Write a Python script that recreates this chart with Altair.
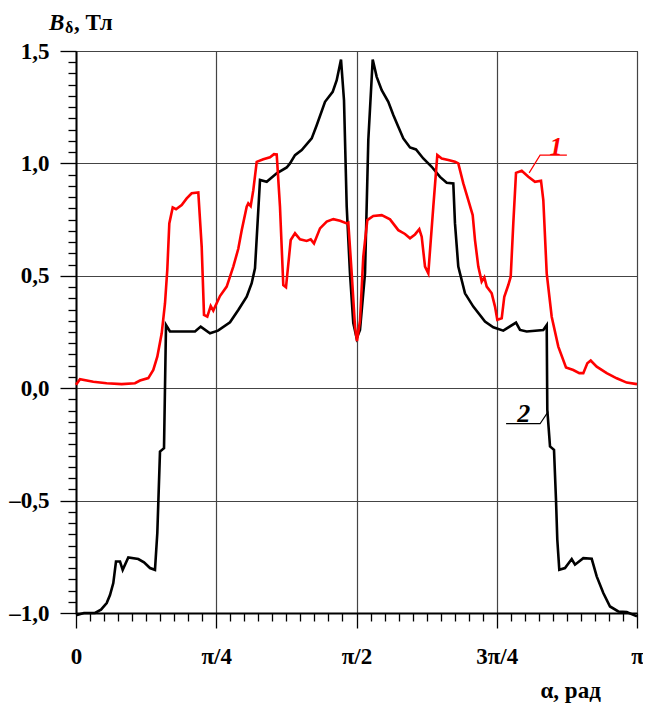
import altair as alt
import pandas as pd

# angle in degrees (0..180 = 0..pi), B in Tesla
alpha_black = [0, 2.57, 6.10, 8.02, 9.85, 10.91, 11.97, 12.83, 14.12, 14.98, 16.78, 19.99, 21.82,
               23.74, 25.34, 26.09, 26.95, 28.24, 28.88, 30.16, 38.18, 40.01, 42.99, 45.56, 49.41,
               52.07, 54.77, 56.37, 57.43, 59.04, 61.19, 64.40, 67.61, 68.66, 70.27, 72.42, 75.63,
               77.23, 79.90, 82.36, 83.65, 85.03, 85.99, 86.86, 87.91, 88.97, 90.06, 91.12, 92.73,
               93.79, 95.20, 96.48, 98.09, 100.20, 101.81, 103.41, 105.02, 107.17, 109.09, 111.43,
               114.13, 116.79, 118.94, 121.06, 121.60, 122.66, 124.81, 127.48, 131.23, 133.89,
               137.10, 141.18, 142.46, 144.61, 149.94, 151.03, 151.22, 152.09, 153.37, 154.01,
               154.43, 155.07, 156.90, 159.05, 160.11, 162.77, 165.47, 167.07, 169.19, 171.34,
               174.00, 176.70, 180]
b_black = [-1.01, -1.0, -1.0, -0.985, -0.956, -0.92, -0.867, -0.771, -0.771, -0.808, -0.753, -0.760,
           -0.775, -0.80, -0.808, -0.644, -0.282, -0.267, 0.281, 0.252, 0.252, 0.274, 0.244, 0.256,
           0.293, 0.348, 0.407, 0.467, 0.533, 0.926, 0.918, 0.956, 0.982, 1.0, 1.037, 1.059, 1.111,
           1.170, 1.274, 1.318, 1.370, 1.462, 1.281, 0.807, 0.51, 0.29, 0.222, 0.259, 0.511,
           1.104, 1.462, 1.385, 1.326, 1.274, 1.215, 1.163, 1.111, 1.071, 1.062, 1.022,
           0.985, 0.940, 0.914, 0.911, 0.733, 0.541, 0.422, 0.363, 0.296, 0.271,
           0.256, 0.292, 0.259, 0.252, 0.259, 0.281, -0.096, -0.259, -0.274, -0.496,
           -0.674, -0.808, -0.80, -0.760, -0.785, -0.756, -0.759, -0.837, -0.911, -0.971,
           -0.993, -0.996, -1.015]

alpha_red = [0, 1.28, 5.55, 9.85, 14.66, 18.93, 20.53, 23.20, 24.80, 26.09, 27.50, 28.56, 29.29,
             29.94, 31.03, 32.09, 33.91, 35.52, 37.12, 39.24, 40.33, 41.07, 42.13, 43.22, 44.05,
             46.20, 48.35, 50.47, 52.07, 53.17, 54.77, 55.28, 56.05, 56.89, 57.98, 60.10, 62.25,
             63.53, 64.40, 65.45, 66.51, 67.38, 68.89, 70.27, 71.87, 74.02, 75.31, 76.36, 78.29,
             80.44, 82.56, 84.71, 86.86, 87.37, 88.46, 89.52, 90.16, 91.12, 92.18, 93.47, 95.39,
             98.09, 100.75, 103.41, 105.56, 107.17, 108.77, 110.15, 110.92, 111.98, 113.04,
             114.64, 115.93, 117.34, 119.46, 121.60, 122.66, 124.27, 125.87, 127.28, 128.02,
             129.08, 130.17, 131.01, 131.78, 133.38, 134.44, 135.18, 136.59, 137.42, 138.71,
             139.48, 140.31, 141.18, 143.01, 145.13, 147.27, 149.20, 149.94, 151.03, 152.63,
             154.75, 157.22, 159.56, 161.49, 162.77, 164.06, 165.15, 167.07, 170.28, 173.49,
             176.70, 180]
b_red = [0.015, 0.04, 0.029, 0.022, 0.018, 0.022, 0.034, 0.045, 0.081, 0.14, 0.244, 0.378, 0.526,
         0.733, 0.804, 0.796, 0.815, 0.844, 0.867, 0.871, 0.629, 0.326, 0.318, 0.366, 0.345,
         0.410, 0.452, 0.541, 0.62, 0.703, 0.807, 0.822, 0.810, 0.881, 1.007, 1.018, 1.027,
         1.041, 1.04, 0.807, 0.459, 0.449, 0.659, 0.689, 0.662, 0.655, 0.662, 0.644, 0.711,
         0.741, 0.752, 0.745, 0.733, 0.736, 0.511, 0.274, 0.21, 0.30, 0.585, 0.748, 0.766,
         0.770, 0.751, 0.703, 0.686, 0.667, 0.684, 0.707, 0.674, 0.541, 0.511,
         0.807, 1.037, 1.022, 1.015, 1.007, 1.0, 0.911, 0.837, 0.770, 0.659,
         0.541, 0.474, 0.493, 0.452, 0.422, 0.363, 0.304, 0.311, 0.407, 0.459,
         0.496, 0.733, 0.958, 0.967, 0.941, 0.918, 0.923, 0.837, 0.511, 0.318,
         0.185, 0.092, 0.081, 0.067, 0.067, 0.111, 0.123, 0.096, 0.067, 0.044,
         0.025, 0.018]

# curve labels and their leader lines
label1_text = "1"
label1_pos = (154.0, 1.037)
leader1_alpha = [157.5, 148.9, 145.4]
leader1_b = [1.037, 1.037, 0.958]
label2_text = "2"
label2_pos = (143.7, -0.150)
leader2_alpha = [138.0, 148.9, 151.5]
leader2_b = [-0.158, -0.158, -0.104]

# axis ticks: majors every pi/4 and 0.5, minors every pi/40 and 0.05
x_ticks = [i * 4.5 for i in range(41)]
y_ticks = [round(-1.0 + 0.05 * i, 2) for i in range(51)]

FONT = "Liberation Serif"

black = pd.DataFrame({"alpha": alpha_black, "B": b_black, "i": range(len(alpha_black))})
red = pd.DataFrame({"alpha": alpha_red, "B": b_red, "i": range(len(alpha_red))})
lead1 = pd.DataFrame({"alpha": leader1_alpha, "B": leader1_b, "i": range(3)})
lead2 = pd.DataFrame({"alpha": leader2_alpha, "B": leader2_b, "i": range(3)})
lab = pd.DataFrame({"alpha": [label1_pos[0], label2_pos[0]], "B": [label1_pos[1], label2_pos[1]],
                    "t": [label1_text, label2_text], "c": ["red", "black"]})

xs = alt.Scale(domain=[0, 180], nice=False, zero=False)
ys = alt.Scale(domain=[-1.0, 1.5], nice=False, zero=False)

x_major = "datum.value % 45 == 0"
y_major = "abs(datum.value * 2 - round(datum.value * 2)) < 0.001"

x_lab = ("datum.value == 0 ? '0' : datum.value == 45 ? 'π/4' : datum.value == 90 ? 'π/2' : "
         "datum.value == 135 ? '3π/4' : datum.value == 180 ? 'π' : ''")
y_lab = ("abs(datum.value * 2 - round(datum.value * 2)) < 0.001 ? "
         "((datum.value < 0 ? '–' : '') + replace(format(abs(datum.value), '.1f'), '.', ',')) : ''")

ax_x = alt.Axis(values=x_ticks, tickCount=200, labelExpr=x_lab, orient="bottom",
                tickSize=alt.condition(x_major, alt.value(15), alt.value(8)),
                tickWidth=1.3, tickColor="black", grid=True, gridColor="#444", gridWidth=1.2,
                gridOpacity=alt.condition(x_major, alt.value(1), alt.value(0)),
                domain=True, domainColor="black", domainWidth=2, labelFont=FONT,
                labelFontSize=23, labelFontWeight="bold", labelColor="black", labelPadding=17,
                labelFlush=False, labelOverlap=False, labelBound=False,
                title="α, рад", titleX=464, titleY=84, titleAlign="left",
                titleBaseline="alphabetic", titleFont=FONT, titleFontSize=23,
                titleFontWeight="bold", titleColor="black")
ax_y = alt.Axis(values=y_ticks, tickCount=200, labelExpr=y_lab, orient="left",
                tickSize=alt.condition(y_major, alt.value(16), alt.value(8)),
                tickWidth=1.3, tickColor="black", grid=True, gridColor="#444", gridWidth=1.2,
                gridOpacity=alt.condition(y_major, alt.value(1), alt.value(0)),
                domain=True, domainColor="black", domainWidth=2, labelFont=FONT,
                labelFontSize=23, labelFontWeight="bold", labelColor="black", labelPadding=11,
                labelOverlap=False, labelBound=False, labelFlush=False, title="")

black_line = alt.Chart(black).mark_line(color="black", strokeWidth=2.6).encode(
    x=alt.X("alpha:Q", scale=xs, axis=ax_x),
    y=alt.Y("B:Q", scale=ys, axis=ax_y),
    order="i:Q")
red_line = alt.Chart(red).mark_line(color="#ff0000", strokeWidth=2.6).encode(
    x=alt.X("alpha:Q", scale=xs), y=alt.Y("B:Q", scale=ys), order="i:Q")
l1 = alt.Chart(lead1).mark_line(color="#ff0000", strokeWidth=1.2).encode(
    x=alt.X("alpha:Q", scale=xs), y=alt.Y("B:Q", scale=ys), order="i:Q")
l2 = alt.Chart(lead2).mark_line(color="black", strokeWidth=1.2).encode(
    x=alt.X("alpha:Q", scale=xs), y=alt.Y("B:Q", scale=ys), order="i:Q")
labels = alt.Chart(lab).mark_text(font=FONT, fontSize=26, fontWeight="bold", fontStyle="italic",
                                  baseline="alphabetic", align="center").encode(
    x=alt.X("alpha:Q", scale=xs), y=alt.Y("B:Q", scale=ys),
    text="t:N", color=alt.Color("c:N", scale=None))

one = pd.DataFrame({"k": [0]})
t_B = alt.Chart(one).mark_text(text="B", font=FONT, fontSize=23, fontWeight="bold",
                               fontStyle="italic", align="left", baseline="alphabetic",
                               color="black").encode(x=alt.value(-27), y=alt.value(-21))
t_d = alt.Chart(one).mark_text(text="δ", font=FONT, fontSize=16, fontWeight="bold",
                               align="left", baseline="alphabetic",
                               color="black").encode(x=alt.value(-11), y=alt.value(-18))
t_u = alt.Chart(one).mark_text(text=", Тл", font=FONT, fontSize=23, fontWeight="bold",
                               align="left", baseline="alphabetic",
                               color="black").encode(x=alt.value(-2), y=alt.value(-21))

chart = alt.layer(black_line, red_line, l1, l2, labels, t_B, t_d, t_u).properties(
    width=561, height=562,
    autosize=alt.AutoSizeParams(type="none"),
    padding={"left": 68, "top": 43, "right": 6, "bottom": 90},
    background="white",
).configure_view(stroke="black", strokeWidth=1)

chart.save("out.html", embed_options={"renderer": "svg", "actions": False})
